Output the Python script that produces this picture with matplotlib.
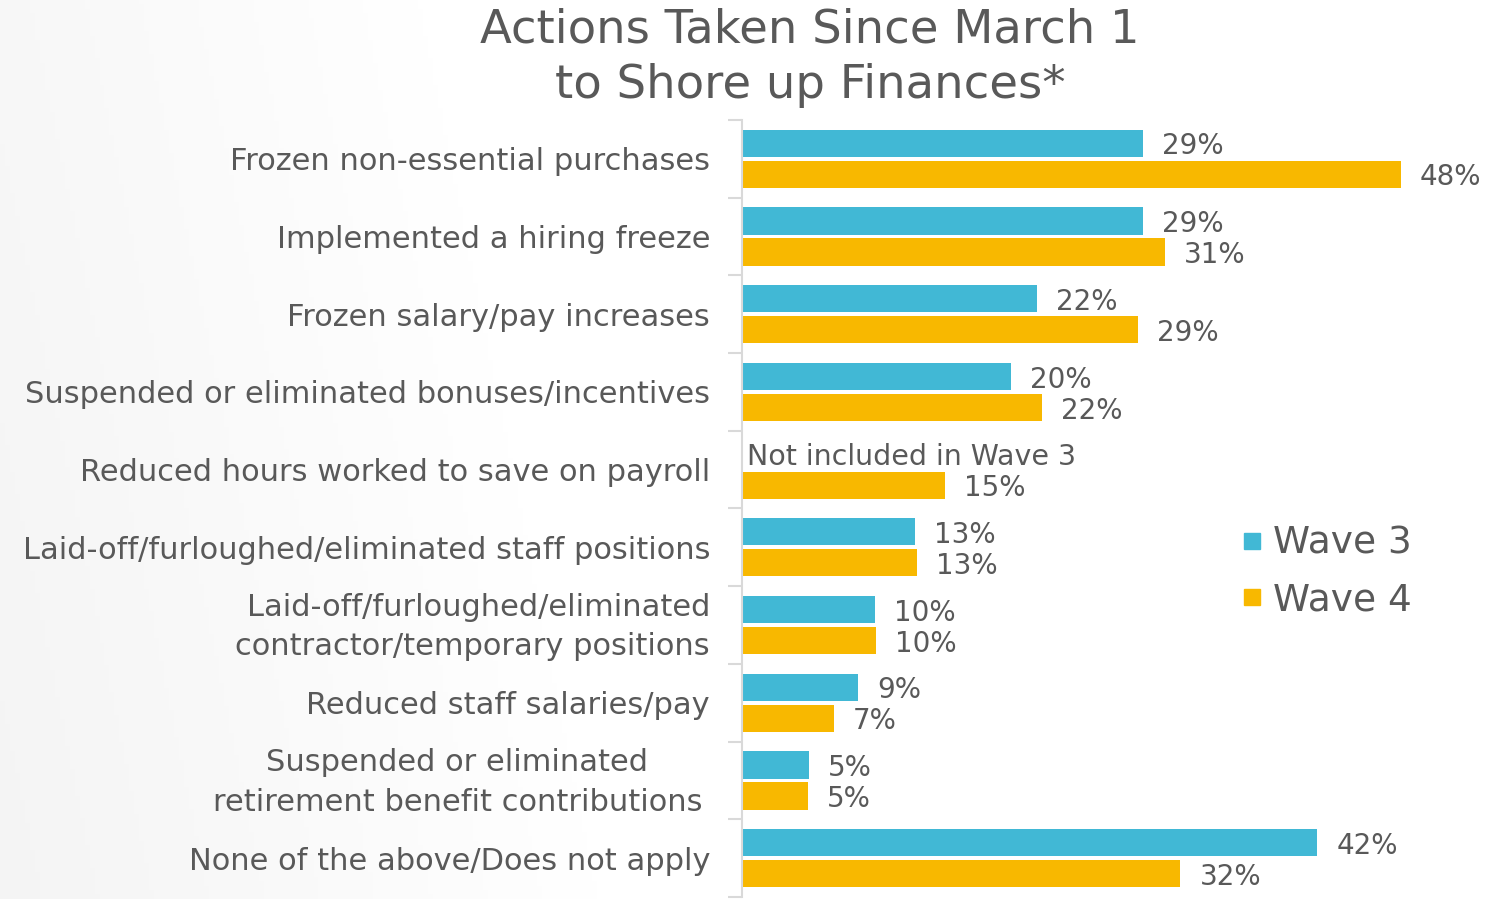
import numpy as np
import matplotlib
matplotlib.use("Agg")
import matplotlib.pyplot as plt
import matplotlib.transforms as mtransforms
from matplotlib.lines import Line2D

categories = [
    "Frozen non-essential purchases",
    "Implemented a hiring freeze",
    "Frozen salary/pay increases",
    "Suspended or eliminated bonuses/incentives",
    "Reduced hours worked to save on payroll",
    "Laid-off/furloughed/eliminated staff positions",
    "Laid-off/furloughed/eliminated\ncontractor/temporary positions",
    "Reduced staff salaries/pay",
    "Suspended or eliminated\nretirement benefit contributions",
    "None of the above/Does not apply",
]
wave3 = [29.3, 29.3, 21.5, 19.6, None, 12.6, 9.7, 8.5, 4.9, 42.0]
wave4 = [48.1, 30.9, 28.9, 21.9, 14.8, 12.8, 9.8, 6.7, 4.8, 32.0]
wave3_labels = ["29%", "29%", "22%", "20%", "Not included in Wave 3", "13%", "10%", "9%", "5%", "42%"]
wave4_labels = ["48%", "31%", "29%", "22%", "15%", "13%", "10%", "7%", "5%", "32%"]
series_names = ["Wave 3", "Wave 4"]
title_lines = ["Actions Taken Since March 1", "to Shore up Finances*"]

C3 = "#41B8D5"
C4 = "#F8B800"
TXT = "#595959"
FONT = "DejaVu Sans"

W, H = 1493, 899
fig = plt.figure(figsize=(W / 100, H / 100), dpi=100)

# subtle background gradient
bg = fig.add_axes([0, 0, 1, 1], zorder=-10)
xx, yy = np.meshgrid(np.linspace(0, 1, 300), np.linspace(0, 1, 200))
g = np.clip((xx * 1.0 + (1 - yy) * 0.12) / 0.40, 0, 1)
val = 0.958 + 0.042 * g
img = np.dstack([val, val, val])
bg.imshow(img, extent=[0, 1, 0, 1], aspect="auto", origin="upper")
bg.set_axis_off()

x0 = 742
px_per_unit = 13.7
xmax = 54
ax_w = xmax * px_per_unit
top, bottom = 120, 897
ax = fig.add_axes([x0 / W, 1 - bottom / H, ax_w / W, (bottom - top) / H])
ax.set_facecolor("none")

n = len(categories)
y = np.arange(n)
bh = 0.35
off = 0.2
for i in range(n):
    if wave3[i] is not None:
        ax.barh(y[i] - off, wave3[i], height=bh, color=C3, edgecolor="none")
    ax.barh(y[i] + off, wave4[i], height=bh, color=C4, edgecolor="none")

ax.set_xlim(0, xmax)
ax.set_ylim(n - 0.5, -0.5)

VS = 20
gap = 19 / px_per_unit
for i in range(n):
    if wave3[i] is not None:
        ax.text(wave3[i] + gap, y[i] - off + 0.04, wave3_labels[i], va="center", ha="left",
                fontsize=VS, color=TXT, family=FONT)
    else:
        ax.text(0.35, y[i] - off + 0.04, wave3_labels[i], va="center", ha="left",
                fontsize=20.5, color=TXT, family=FONT)
    ax.text(wave4[i] + gap, y[i] + off + 0.04, wave4_labels[i], va="center", ha="left",
            fontsize=VS, color=TXT, family=FONT)

# axis styling
for s in ["top", "right", "bottom"]:
    ax.spines[s].set_visible(False)
ax.spines["left"].set_color("#D9D9D9")
ax.spines["left"].set_linewidth(1.5)
ax.set_xticks([])
ax.set_yticks(np.arange(-0.5, n, 1.0))
ax.set_yticklabels([])
ax.tick_params(axis="y", which="major", length=10, width=1.5, color="#D9D9D9")
ax.set_yticks(y, minor=True)
ax.set_yticklabels(categories, minor=True, fontsize=22, color=TXT, family=FONT)
ax.tick_params(axis="y", which="minor", length=0, pad=23)
up = mtransforms.ScaledTranslation(0, 6 / 100, fig.dpi_scale_trans)
shift = mtransforms.ScaledTranslation(-8 / 100, 6 / 100, fig.dpi_scale_trans)
for lbl in ax.get_yticklabels(minor=True):
    txt = lbl.get_text()
    lbl.set_linespacing(1.45)
    if "retirement" in txt:
        lbl.set_multialignment("center")
        lbl.set_transform(lbl.get_transform() + shift)
    else:
        lbl.set_multialignment("right")
        if "\n" in txt:
            lbl.set_transform(lbl.get_transform() + up)

for k, (line, yc) in enumerate(zip(title_lines, (30, 86))):
    fig.text(810 / W, 1 - yc / H, line, ha="center", va="center", fontsize=33.5,
             color=TXT, family=FONT)

# legend
handles = [Line2D([], [], marker="s", linestyle="none", markersize=11, color=c) for c in (C3, C4)]
leg = fig.legend(handles, series_names, loc="center left", bbox_to_anchor=(1237 / W, 1 - 572 / H),
                 frameon=False, labelspacing=0.55, handletextpad=0.15, handlelength=0.8,
                 borderpad=0, borderaxespad=0, prop={"family": FONT, "size": 27})
for t in leg.get_texts():
    t.set_color(TXT)

fig.savefig("out.png", dpi=100)
